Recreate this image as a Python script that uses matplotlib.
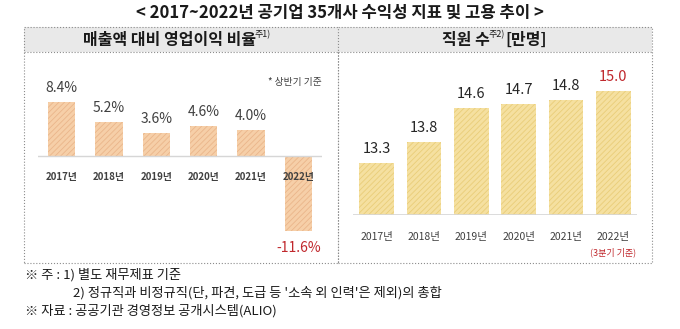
import matplotlib.pyplot as plt
from matplotlib.patches import Rectangle
from matplotlib.lines import Line2D
from matplotlib.text import Annotation

plt.rcParams['font.family'] = ['Noto Sans CJK KR', 'DejaVu Sans']
plt.rcParams['hatch.linewidth'] = 0.6

# data
years = ['2017년', '2018년', '2019년', '2020년', '2021년', '2022년']
margin = [8.4, 5.2, 3.6, 4.6, 4.0, -11.6]        # 매출액 대비 영업이익 비율 (%)
staff = [13.3, 13.8, 14.6, 14.7, 14.8, 15.0]      # 직원 수 (만명)

W, H = 680, 329
fig = plt.figure(figsize=(W / 100, H / 100), dpi=100)


def fx(px):
    return px / W


def fy(py):
    return 1 - py / H


def frame(x0, y0, x1, y1, **kw):
    fig.add_artist(Rectangle((fx(x0), fy(y1)), fx(x1) - fx(x0), fy(y0) - fy(y1),
                             transform=fig.transFigure, **kw))


# panel boxes with gray header bands
for x0, x1 in [(24, 338), (338, 652)]:
    frame(x0, 27, x1, 52, facecolor='#e9e9e9', edgecolor='none')
    frame(x0, 27, x1, 263, facecolor='none', edgecolor='#8c8c8c', lw=0.8, ls=':')
    fig.add_artist(Line2D([fx(x0), fx(x1)], [fy(52), fy(52)], transform=fig.transFigure,
                          color='#8c8c8c', lw=0.8, ls=':'))

fig.text(0.5, fy(13), '< 2017~2022년 공기업 35개사 수익성 지표 및 고용 추이 >',
         ha='center', va='center', fontsize=12, fontweight='bold', color='#1a1a1a')

x = range(len(years))

# left panel: operating margin
ax1 = fig.add_axes([fx(38), fy(240), fx(322) - fx(38), fy(70) - fy(240)])
ax1.bar(x, margin, width=0.58, color='#f6cfa8', edgecolor='#eab58a', linewidth=0, hatch='//////')
ax1.axhline(0, color='#d6d6d6', lw=1)
ax1.set_xlim(-0.5, 5.5)
ax1.set_ylim(-13.0, 13.3)
ax1.axis('off')
for i, v in enumerate(margin):
    if v >= 0:
        ax1.annotate(f'{v:.1f}%', (i, v), xytext=(0, 5), textcoords='offset points',
                     ha='center', va='bottom', fontsize=10, color='#404040')
    else:
        ax1.annotate(f'{v:.1f}%', (i, v), xytext=(0, -7), textcoords='offset points',
                     ha='center', va='top', fontsize=10, color='#c0282d')
    ax1.annotate(years[i], (i, 0), xytext=(0, -15), textcoords='offset points',
                 ha='center', va='center', fontsize=7, fontweight='bold', color='#404040')
ax1.text(1.0, 0.93, '* 상반기 기준', transform=ax1.transAxes, ha='right', va='center',
         fontsize=7, color='#404040')

# right panel: employees
ax2 = fig.add_axes([fx(353), fy(215), fx(637) - fx(353), fy(70) - fy(215)])
ax2.bar(x, staff, width=0.73, color='#f5e0a0', edgecolor='#e9cd78', linewidth=0, hatch='//////')
ax2.set_xlim(-0.5, 5.5)
ax2.set_ylim(12.06, 15.51)
ax2.axhline(12.06, color='#d6d6d6', lw=1.2)
ax2.axis('off')
for i, v in enumerate(staff):
    c = '#c0282d' if i == len(staff) - 1 else '#262626'
    ax2.annotate(f'{v:.1f}', (i, v), xytext=(0, 5), textcoords='offset points',
                 ha='center', va='bottom', fontsize=10.5, color=c)
    ax2.annotate(years[i], (i, 12.06), xytext=(0, -16), textcoords='offset points',
                 ha='center', va='center', fontsize=7.5, color='#404040')
ax2.annotate('(3분기 기준)', (5, 12.06), xytext=(0, -27), textcoords='offset points',
             ha='center', va='center', fontsize=6.5, color='#c0282d')

# headers with superscripts
h1 = fig.text(fx(83), fy(40), '매출액 대비 영업이익 비율', ha='left', va='center',
              fontsize=11.5, fontweight='bold', color='#1a1a1a')
fig.add_artist(Annotation('주1)', xy=(1, 0.55), xycoords=h1, xytext=(-1, 0),
                          textcoords='offset points', ha='left', va='bottom',
                          fontsize=6.5, color='#1a1a1a'))

h2 = fig.text(fx(442), fy(40), '직원 수', ha='left', va='center',
              fontsize=11.5, fontweight='bold', color='#1a1a1a')
s2 = fig.add_artist(Annotation('주2)', xy=(1, 0.55), xycoords=h2, xytext=(-1, 0),
                               textcoords='offset points', ha='left', va='bottom',
                               fontsize=6.5, color='#1a1a1a'))
fig.add_artist(Annotation('[만명]', xy=(1, 0.5), xycoords=(s2, h2), xytext=(0.5, 0),
                          textcoords='offset points', ha='left', va='center',
                          fontsize=11.5, fontweight='bold', color='#1a1a1a'))

# footnotes
fig.text(fx(25), fy(275), '※ 주 : 1) 별도 재무제표 기준', ha='left', va='center',
         fontsize=9.5, color='#1a1a1a')
fig.text(fx(73), fy(293), "2) 정규직과 비정규직(단, 파견, 도급 등 '소속 외 인력'은 제외)의 총합",
         ha='left', va='center', fontsize=9.5, color='#1a1a1a')
fig.text(fx(25), fy(311), '※ 자료 : 공공기관 경영정보 공개시스템(ALIO)', ha='left', va='center',
         fontsize=9.5, color='#1a1a1a')

fig.savefig('out.png', dpi=100, facecolor='white')
